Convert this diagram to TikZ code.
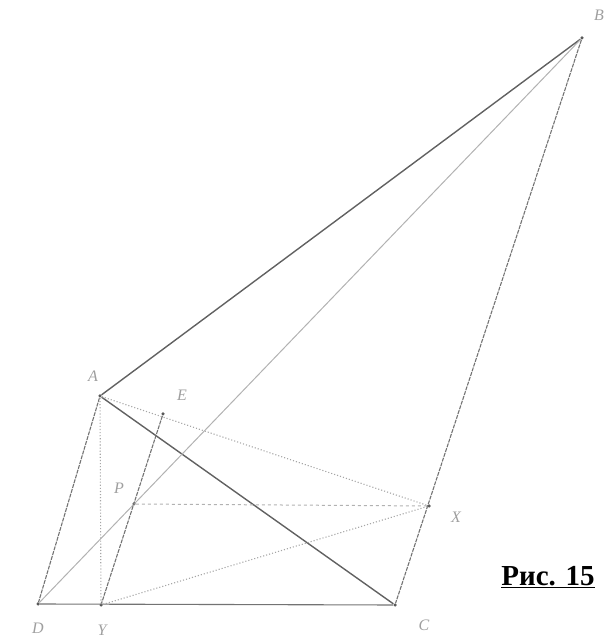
\documentclass[tikz,border=0pt]{standalone}
\usepackage{fontspec}
\setmainfont{Liberation Serif}
\begin{document}
\begin{tikzpicture}[x=1pt,y=1pt,
  pt/.style={circle,fill=gray!70!black,inner sep=0pt,minimum size=3.5pt},
  lbl/.style={text=gray!75,font=\itshape\fontsize{16}{16}\selectfont},
  dark/.style={draw=black!62,line width=1.4pt},
  mid/.style={draw=black!55,line width=1.1pt},
  light/.style={draw=black!30,line width=1pt},
  dot/.style={draw=black!35,line width=1.1pt,dotted}]
\useasboundingbox (0,0) rectangle (612,641);
\node[pt] (A) at (100,245) {};
\node[pt] (B) at (582,603) {};
\node[pt] (C) at (395,36) {};
\node[pt] (D) at (38,37) {};
\node[pt] (Y) at (101,36) {};
\node[pt] (X) at (429,135) {};
\node[pt] (E) at (163,227) {};
\node[pt] (P) at (134,137) {};
% lines
\draw[dark] (A) -- (B);
\draw[dark] (A) -- (C);
\draw[mid,dash pattern=on 4pt off 1pt] (B) -- (C);
\draw[mid,dash pattern=on 4pt off 1pt] (A) -- (D);
\draw[mid] (D) -- (C);
\draw[light] (D) -- (B);
\draw[dot] (A) -- (Y);
\draw[mid,dash pattern=on 4pt off 1pt] (E) -- (Y);
\draw[dot] (A) -- (X);
\draw[light,dashed] (P) -- (X);
\draw[dot] (Y) -- (X);
% labels
\node[lbl] (lA) at (93,265) {A};
\node[lbl] (lB) at (599,626) {B};
\node[lbl] (lC) at (424,16) {C};
\node[lbl] (lD) at (38,13) {D};
\node[lbl] (lY) at (102,11) {Y};
\node[lbl] (lX) at (456,124) {X};
\node[lbl] (lE) at (182,246) {E};
\node[lbl] (lP) at (119,153) {P};
\node[font=\bfseries\fontsize{29}{29}\selectfont,anchor=base] (cap) at (548,56) {\underline{Рис. 15}};
\end{tikzpicture}
\end{document}
